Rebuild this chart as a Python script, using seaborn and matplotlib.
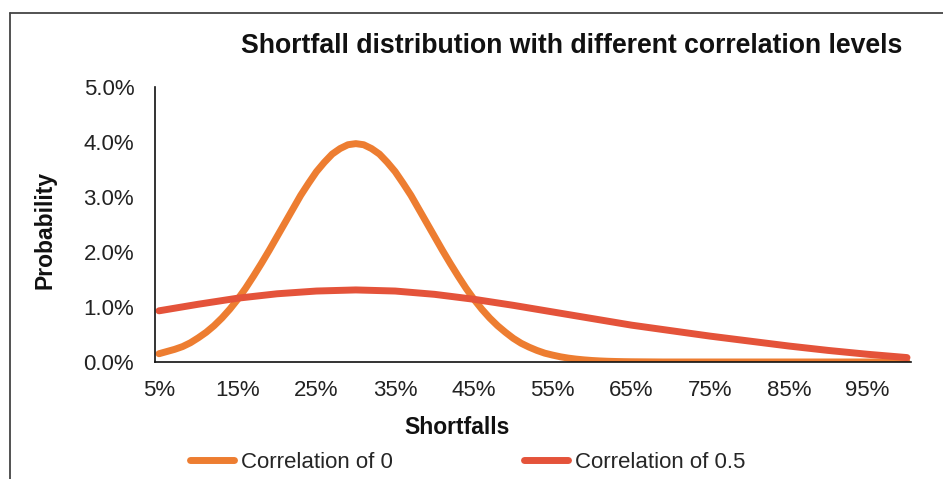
import matplotlib
matplotlib.use('Agg')
import matplotlib.pyplot as plt
import pandas as pd
import seaborn as sns
from matplotlib.lines import Line2D
from matplotlib.ticker import PercentFormatter

# shortfall levels (%) for the correlation-0 curve, 1% steps
shortfall_0 = list(range(5, 101))
prob_0 = [0.15, 0.19, 0.23, 0.28, 0.35, 0.44, 0.54, 0.66, 0.80, 0.96,
          1.14, 1.34, 1.56, 1.79, 2.03, 2.28, 2.53, 2.78, 3.03, 3.25,
          3.46, 3.63, 3.78, 3.88, 3.95, 3.97, 3.95, 3.88, 3.78, 3.63,
          3.46, 3.25, 3.03, 2.78, 2.53, 2.28, 2.03, 1.79, 1.56, 1.34,
          1.14, 0.96, 0.80, 0.66, 0.54, 0.43, 0.34, 0.27, 0.21, 0.16,
          0.125, 0.094, 0.07, 0.052, 0.038, 0.027, 0.019, 0.013, 0.009, 0.006,
          0.004, 0.003, 0.002, 0.001, 0.0, 0.0, 0.0, 0.0, 0.0, 0.0,
          0.0, 0.0, 0.0, 0.0, 0.0, 0.0, 0.0, 0.0, 0.0, 0.0,
          0.0, 0.0, 0.0, 0.0, 0.0, 0.0, 0.0, 0.0, 0.0, 0.0,
          0.0, 0.0, 0.0, 0.0, 0.0, 0.0]

# correlation-0.5 curve, read every 5%
shortfall_05 = [5, 10, 15, 20, 25, 30, 35, 40, 45, 50,
                55, 60, 65, 70, 75, 80, 85, 90, 95, 100]
prob_05 = [0.93, 1.05, 1.16, 1.24, 1.29, 1.31, 1.29, 1.23, 1.14, 1.03,
           0.91, 0.79, 0.67, 0.57, 0.47, 0.38, 0.29, 0.21, 0.14, 0.08]

x_ticks = [5, 15, 25, 35, 45, 55, 65, 75, 85, 95]
y_ticks = [0, 1, 2, 3, 4, 5]

label_0 = 'Correlation of 0'
label_05 = 'Correlation of 0.5'
c_0 = '#ED7D31'
c_05 = '#E4533A'

df0 = pd.DataFrame({'Shortfalls': shortfall_0, 'Probability': prob_0})
df05 = pd.DataFrame({'Shortfalls': shortfall_05, 'Probability': prob_05})

sns.set_style('white')
plt.rcParams['font.family'] = ['Liberation Sans', 'DejaVu Sans']

fig = plt.figure(figsize=(9.43, 4.79), dpi=100)
ax = fig.add_axes([0.1644, 0.2443, 0.8016, 0.5741])

sns.lineplot(data=df0, x='Shortfalls', y='Probability', ax=ax, color=c_0,
             linewidth=5, label=label_0)
sns.lineplot(data=df05, x='Shortfalls', y='Probability', ax=ax, color=c_05,
             linewidth=5, label=label_05)

ax.set_xlim(4.5, 100.5)
ax.set_ylim(0, 5)
ax.set_xticks(x_ticks)
ax.set_yticks(y_ticks)
ax.xaxis.set_major_formatter(PercentFormatter(decimals=0))
ax.yaxis.set_major_formatter(PercentFormatter(decimals=1))
ax.tick_params(axis='both', length=0, labelsize=16, colors='#222222')
ax.tick_params(axis='x', pad=13)
ax.tick_params(axis='y', pad=15)
for s in ['top', 'right']:
    ax.spines[s].set_visible(False)
for s in ['left', 'bottom']:
    ax.spines[s].set_color('#111111')
    ax.spines[s].set_linewidth(1.2)

ax.set_xlabel('')
ax.set_ylabel('')
fig.text(0.4846, 0.108, 'Shortfalls', ha='center', va='center',
         fontsize=16.5, fontweight='bold', color='#111111')
fig.text(0.0477, 0.52, 'Probability', ha='center', va='center', rotation=90,
         fontsize=16.5, fontweight='bold', color='#111111')
fig.text(0.606, 0.905, 'Shortfall distribution with different correlation levels',
         ha='center', va='center', fontsize=19.2, fontweight='bold', color='#111111')

ax.get_legend().remove()
handles, labels = ax.get_legend_handles_labels()
fig.legend(handles, labels, loc='center', bbox_to_anchor=(0.496, 0.035), ncol=2,
           frameon=False, fontsize=16, handlelength=2.0, handletextpad=0.3,
           columnspacing=5.9)

# outer chart frame (left and top edges visible)
fig.add_artist(Line2D([10 / 943, 10 / 943], [0, 1 - 13 / 479], transform=fig.transFigure,
                      color='#444444', linewidth=1.3))
fig.add_artist(Line2D([10 / 943, 1], [1 - 13 / 479, 1 - 13 / 479], transform=fig.transFigure,
                      color='#444444', linewidth=1.3))

fig.savefig('out.png', dpi=100)
